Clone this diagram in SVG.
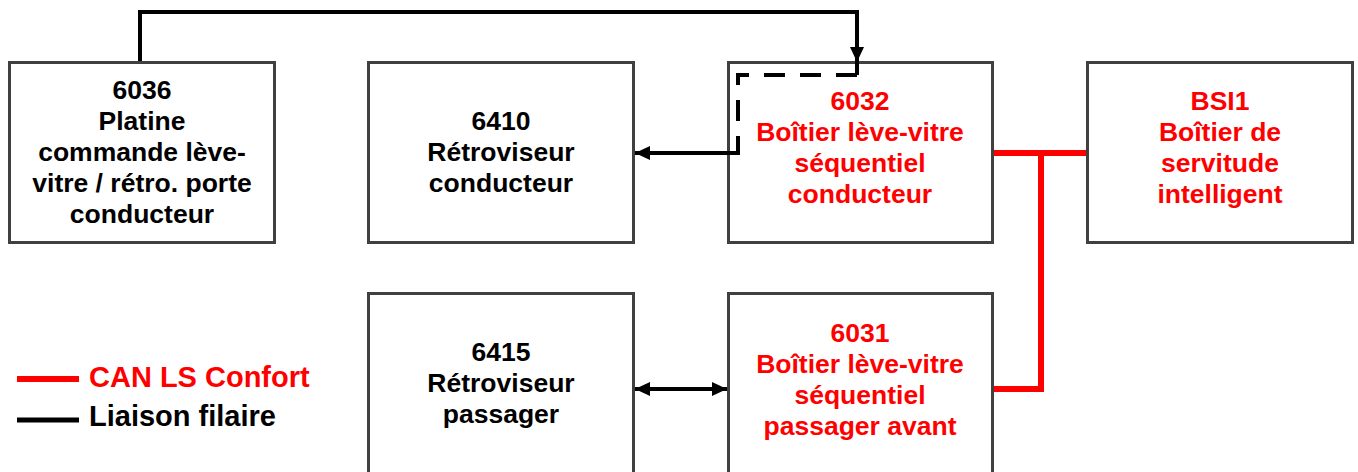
<svg xmlns="http://www.w3.org/2000/svg" width="1358" height="472" viewBox="0 0 1358 472">
<style>
.box{fill:#fff;stroke:#404040;stroke-width:3}
.t{font-family:"Liberation Sans",Arial,sans-serif;font-weight:bold;font-size:26.5px;text-anchor:middle}
.k{fill:#000}
.r{fill:#ff0000}
.w{fill:none;stroke:#000;stroke-width:4}
.can{fill:none;stroke:#ff0000;stroke-width:6}
.lg{font-family:"Liberation Sans",Arial,sans-serif;font-weight:bold;font-size:29px}
</style>
<defs>
<marker id="ah" markerUnits="userSpaceOnUse" markerWidth="16" markerHeight="16" viewBox="0 0 16 16" refX="15" refY="8" orient="auto-start-reverse">
<path d="M0,1 L15,8 L0,15 Z" fill="#000"/>
</marker>
</defs>
<rect width="1358" height="472" fill="#fff"/>
<g id="n6036">
<rect class="box" x="9.5" y="62.5" width="265" height="180"/>
<text class="t k" x="142" y="99">6036<tspan x="142" dy="31">Platine</tspan><tspan x="142" dy="31">commande lève-</tspan><tspan x="142" dy="31">vitre / rétro. porte</tspan><tspan x="142" dy="31">conducteur</tspan></text>
</g>
<g id="n6410">
<rect class="box" x="368.5" y="62.5" width="265" height="180"/>
<text class="t k" x="501" y="130">6410<tspan x="501" dy="31">Rétroviseur</tspan><tspan x="501" dy="31">conducteur</tspan></text>
</g>
<g id="n6032">
<rect class="box" x="728.5" y="62.5" width="264" height="180"/>
<text class="t r" x="860" y="110">6032<tspan x="860" dy="31">Boîtier lève-vitre</tspan><tspan x="860" dy="31">séquentiel</tspan><tspan x="860" dy="31">conducteur</tspan></text>
</g>
<g id="nBSI1">
<rect class="box" x="1087.5" y="62.5" width="265" height="180"/>
<text class="t r" x="1220" y="110">BSI1<tspan x="1220" dy="31">Boîtier de</tspan><tspan x="1220" dy="31">servitude</tspan><tspan x="1220" dy="31">intelligent</tspan></text>
</g>
<g id="n6415">
<rect class="box" x="368.5" y="293.5" width="265" height="190"/>
<text class="t k" x="501" y="361">6415<tspan x="501" dy="31">Rétroviseur</tspan><tspan x="501" dy="31">passager</tspan></text>
</g>
<g id="n6031">
<rect class="box" x="728.5" y="293.5" width="264" height="190"/>
<text class="t r" x="860" y="342">6031<tspan x="860" dy="31">Boîtier lève-vitre</tspan><tspan x="860" dy="31">séquentiel</tspan><tspan x="860" dy="31">passager avant</tspan></text>
</g>
<g id="connectors">
<path class="w" d="M140,61 V12 H857 V62" marker-end="url(#ah)"/>
<path class="w" d="M857,55 V75"/>
<path class="w" d="M857,75 H738 V153" stroke-dasharray="21 15"/>
<path class="w" d="M740,153 H635" marker-end="url(#ah)"/>
<path class="w" d="M635,389 H727" marker-start="url(#ah)" marker-end="url(#ah)"/>
<path class="can" d="M994,153 H1086"/>
<path class="can" d="M1041,153 V389 H994"/>
</g>
<g id="legend">
<line x1="17" y1="379" x2="79" y2="379" stroke="#ff0000" stroke-width="6"/>
<text class="lg r" x="89" y="387">CAN LS Confort</text>
<line x1="17" y1="420" x2="79" y2="420" stroke="#000" stroke-width="5"/>
<text class="lg k" x="89" y="426">Liaison filaire</text>
</g>
</svg>
